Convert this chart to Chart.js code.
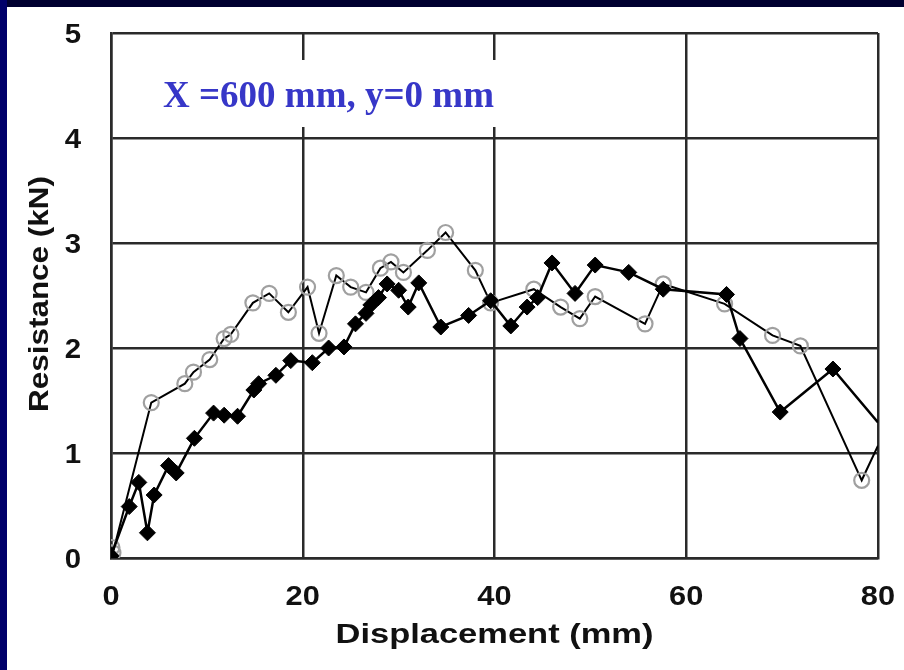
<!DOCTYPE html>
<html>
<head>
<meta charset="utf-8">
<script src="https://cdn.jsdelivr.net/npm/chart.js@4/dist/chart.umd.min.js"></script>
<style>
  html, body { margin: 0; padding: 0; background: #fff; }
  #wrap { position: relative; width: 904px; height: 670px; overflow: hidden; }
  #topbar { position: absolute; left: 0; top: 0; width: 904px; height: 7px; background: #000030; }
  #leftbar { position: absolute; left: 0; top: 0; width: 7px; height: 670px; background: #00006a; }
</style>
</head>
<body>
<div id="wrap">
  <canvas id="grafico" width="904" height="670"></canvas>
  <div id="topbar"></div>
  <div id="leftbar"></div>
</div>
<script>
// ticks
const ticksX = [0, 20, 40, 60, 80];
const ticksY = [0, 1, 2, 3, 4, 5];

// serie con circulos (gris)
const circX = [0, 0.1, 0.2, 4.2, 7.7, 8.6, 10.3, 11.8, 12.5, 14.8, 16.5, 18.5, 20.5, 21.7, 23.5, 25, 26.6, 28.1, 29.2, 30.5, 33, 34.9, 38, 39.6, 44.1, 46.9, 48.9, 50.5, 55.7, 57.6, 64, 69, 71.9, 78.3, 80];
const circY = [0, 0.1, 0.05, 1.48, 1.66, 1.77, 1.89, 2.09, 2.13, 2.43, 2.52, 2.34, 2.58, 2.14, 2.69, 2.58, 2.53, 2.76, 2.82, 2.72, 2.93, 3.1, 2.74, 2.43, 2.56, 2.39, 2.28, 2.49, 2.23, 2.61, 2.42, 2.12, 2.02, 0.74, 1.07];

// serie con rombos (negro)
const diamX = [0, 1.9, 2.9, 3.8, 4.5, 6.0, 6.8, 8.7, 10.7, 11.8, 13.2, 14.9, 15.4, 17.2, 18.75, 21, 22.7, 24.3, 25.5, 26.6, 27.1, 27.9, 28.8, 30, 31, 32.1, 34.4, 37.3, 39.6, 41.7, 43.4, 44.5, 46, 48.4, 50.5, 54, 57.6, 64.2, 65.6, 69.8, 75.3, 80];
const diamY = [0.02, 0.49, 0.72, 0.24, 0.6, 0.88, 0.81, 1.14, 1.38, 1.36, 1.35, 1.6, 1.66, 1.74, 1.88, 1.86, 2.0, 2.01, 2.23, 2.33, 2.41, 2.48, 2.61, 2.55, 2.39, 2.62, 2.2, 2.31, 2.45, 2.21, 2.39, 2.48, 2.81, 2.52, 2.79, 2.72, 2.56, 2.51, 2.09, 1.39, 1.8, 1.29];

const titulo = 'X =600 mm, y=0 mm';
const tituloX = 'Displacement (mm)';
const tituloY = 'Resistance (kN)';

function puntos(xs, ys) {
    return xs.map((x, i) => ({ x: x, y: ys[i] }));
}

// ultimo punto sin marcador (la linea sigue fuera del grafico)
function radios(n, r) {
    return Array.from({ length: n }, (_, i) => (i === n - 1 ? 0 : r));
}

// texto estirado en horizontal
function texto(ctx, txt, x, y, sx, align) {
    ctx.save();
    ctx.translate(x, y);
    ctx.scale(sx, 1);
    ctx.textAlign = align;
    ctx.fillText(txt, 0, 0);
    ctx.restore();
}

const etiquetas = {
    id: 'etiquetas',
    beforeDatasetsDraw(chart) {
        const ctx = chart.ctx;
        ctx.save();
        ctx.fillStyle = '#fff';
        ctx.fillRect(150, 60, 356, 67);
        ctx.font = 'bold 38px "Liberation Serif"';
        const w = ctx.measureText(titulo).width;
        ctx.fillStyle = '#3737c8';
        ctx.textBaseline = 'alphabetic';
        texto(ctx, titulo, 163, 107, 331 / w, 'left');
        ctx.restore();
    },
    afterDraw(chart) {
        const ctx = chart.ctx;
        const sx = chart.scales.x;
        const sy = chart.scales.y;
        ctx.save();
        ctx.fillStyle = '#111';
        ctx.textBaseline = 'alphabetic';
        ctx.font = 'bold 28px "Liberation Sans"';
        ticksX.forEach(v => texto(ctx, String(v), sx.getPixelForValue(v), 605, 1.1, 'center'));
        ticksY.forEach(v => texto(ctx, String(v), 81, sy.getPixelForValue(v) + 10, 1.05, 'right'));

        let w = ctx.measureText(tituloX).width;
        texto(ctx, tituloX, (chart.chartArea.left + chart.chartArea.right) / 2, 643, 318 / w, 'center');

        w = ctx.measureText(tituloY).width;
        ctx.translate(48, 294);
        ctx.rotate(-Math.PI / 2);
        texto(ctx, tituloY, 0, 0, 236 / w, 'center');
        ctx.restore();
    }
};

const colorRejilla = '#2a2a2a';

new Chart(document.getElementById('grafico').getContext('2d'), {
    type: 'line',
    data: {
        datasets: [{
            data: puntos(diamX, diamY),
            borderColor: '#000',
            borderWidth: 2.5,
            pointStyle: 'rectRot',
            pointRadius: radios(diamX.length, 8),
            pointBackgroundColor: '#000',
            pointBorderColor: '#000',
            pointBorderWidth: 1,
            tension: 0
        }, {
            data: puntos(circX, circY),
            borderColor: '#000',
            borderWidth: 2,
            pointStyle: 'circle',
            pointRadius: radios(circX.length, 7.5),
            pointBackgroundColor: 'rgba(0,0,0,0)',
            pointBorderColor: '#a0a0a0',
            pointBorderWidth: 2.2,
            tension: 0
        }]
    },
    options: {
        responsive: false,
        animation: false,
        events: [],
        layout: { padding: { left: 111, right: 26, top: 33, bottom: 112 } },
        plugins: { legend: { display: false }, tooltip: { enabled: false } },
        scales: {
            x: {
                type: 'linear',
                min: 0,
                max: 80,
                ticks: { stepSize: 20, display: false },
                grid: { color: colorRejilla, lineWidth: 2.5, drawTicks: false },
                border: { color: colorRejilla, width: 2.5 }
            },
            y: {
                min: 0,
                max: 5,
                ticks: { stepSize: 1, display: false },
                grid: { color: colorRejilla, lineWidth: 2.5, drawTicks: false },
                border: { color: colorRejilla, width: 2.5 }
            }
        }
    },
    plugins: [etiquetas]
});
</script>
</body>
</html>
